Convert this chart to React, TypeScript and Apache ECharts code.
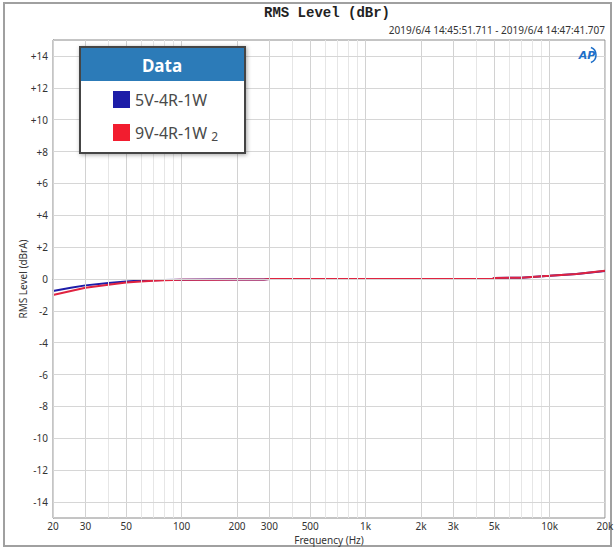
import React, { useEffect, useRef } from "react";
import * as echarts from "echarts";

const FREQ = [20, 25, 30, 40, 50, 60, 70, 80, 100, 150, 200, 280, 300, 500, 1000, 2000, 4900, 5000, 7000, 8000, 10000, 14000, 20000];
const BLUE = [-0.75, -0.55, -0.4, -0.25, -0.15, -0.1, -0.08, -0.06, -0.04, -0.03, -0.03, -0.03, 0.0, 0.0, 0.0, 0.0, 0.0, 0.07, 0.08, 0.13, 0.2, 0.32, 0.5];
const RED = [-1.0, -0.75, -0.55, -0.36, -0.22, -0.15, -0.11, -0.08, -0.05, -0.04, -0.03, -0.03, 0.0, 0.0, 0.0, 0.0, 0.0, 0.07, 0.08, 0.13, 0.2, 0.32, 0.52];
const SERIES_NAMES = ["5V-4R-1W", "9V-4R-1W 2"];
const X_LABELS = [20, 30, 50, 100, 200, 300, 500, 1000, 2000, 3000, 5000, 10000, 20000];
const X_GRID = [20, 30, 40, 50, 60, 70, 80, 90, 100, 200, 300, 400, 500, 600, 700, 800, 900, 1000, 2000, 3000, 4000, 5000, 6000, 7000, 8000, 9000, 10000, 20000];
const Y_TICKS = [-14, -12, -10, -8, -6, -4, -2, 0, 2, 4, 6, 8, 10, 12, 14];

const fmtFreq = (f: number) => (f >= 1000 ? f / 1000 + "k" : String(f));
const fmtY = (v: number) => (v > 0 ? "+" + v : String(v));

export default function App() {
  const ref = useRef<HTMLDivElement>(null);
  useEffect(() => {
    const chart = echarts.init(ref.current!, null, { renderer: "svg" });
    const font = "Noto Sans";
    const xLines = X_GRID.map((f) => {
      const labeled = X_LABELS.includes(f);
      return {
        xAxis: f,
        lineStyle: { color: labeled ? "#d2d2d2" : "#e6e6e6", width: 1, type: "solid" },
        label: labeled
          ? { show: true, position: "start", formatter: fmtFreq(f), color: "#333", fontSize: 10, fontFamily: font, distance: 3 }
          : { show: false },
      };
    });
    const yLines = Y_TICKS.map((v) => ({
      yAxis: v,
      lineStyle: { color: "#d6d6d6", width: 1, type: "solid" },
      label: { show: false },
    }));
    chart.setOption({
      animation: false,
      backgroundColor: "#fff",
      textStyle: { fontFamily: font },
      grid: {
        left: 53, right: 10, top: 40, bottom: 31,
        outerBoundsMode: "none", containLabel: false,
        show: true, borderColor: "#8a8a8a", borderWidth: 1, backgroundColor: "#fff",
      },
      xAxis: {
        type: "log",
        logBase: 10,
        min: 20,
        max: 20000,
        name: "Frequency (Hz)",
        nameLocation: "middle",
        nameGap: 17,
        nameTextStyle: { fontSize: 10, color: "#333", fontFamily: font },
        axisLine: { show: true, lineStyle: { color: "#8a8a8a" } },
        axisTick: { show: false },
        axisLabel: { show: false },
        splitLine: { show: false },
        minorSplitLine: { show: false },
      },
      yAxis: {
        type: "value",
        min: -15,
        max: 15,
        name: "RMS Level (dBrA)",
        nameLocation: "middle",
        nameGap: 25,
        nameMoveOverlap: false,
        nameTextStyle: { fontSize: 10, color: "#333", fontFamily: font },
        axisLine: { show: true, lineStyle: { color: "#8a8a8a" } },
        axisTick: { show: false },
        splitLine: { show: false },
        axisLabel: {
          customValues: Y_TICKS,
          formatter: (v: number) => fmtY(v),
          color: "#333",
          fontSize: 10,
          fontFamily: font,
          margin: 5,
        },
      },
      legend: {
        orient: "vertical",
        left: 113,
        top: 91,
        padding: 0,
        itemWidth: 17,
        itemHeight: 17,
        itemGap: 16,
        icon: "rect",
        data: SERIES_NAMES,
        formatter: (name: string) => (name === SERIES_NAMES[1] ? "9V-4R-1W {s|2}" : name),
        textStyle: {
          fontSize: 16,
          color: "#4a4a4a",
          fontFamily: font,
          rich: { s: { fontSize: 12, color: "#4a4a4a", padding: [8, 0, 0, 0], fontFamily: font } },
        },
        z: 20,
      },
      graphic: [
        { type: "rect", shape: { x: 4, y: 3, width: 607, height: 543 }, style: { fill: "none", stroke: "#a0a0a0", lineWidth: 2 }, silent: true },
        { type: "text", x: 327, y: 13, style: { text: "RMS Level (dBr)", fontFamily: "Liberation Mono", fontWeight: "bold", fontSize: 14, fill: "#222", textAlign: "center", textVerticalAlign: "middle" } },
        { type: "text", x: 605, y: 30, style: { text: "2019/6/4 14:45:51.711 - 2019/6/4 14:47:41.707", fontFamily: font, fontSize: 10, fill: "#333", textAlign: "right", textVerticalAlign: "middle" } },
        { type: "text", x: 587, y: 55, z: 10, style: { text: "AP", fontFamily: "DejaVu Sans", fontStyle: "italic", fontWeight: "bold", fontSize: 11, fill: "#1e6fc8", textAlign: "center", textVerticalAlign: "middle" } },
        { type: "arc", z: 10, shape: { cx: 588, cy: 55, r: 8, startAngle: -1.2, endAngle: 1.2 }, style: { stroke: "#1e6fc8", lineWidth: 1.5, fill: "none" } },
        {
          type: "rect",
          z: 10,
          shape: { x: 80, y: 47, width: 165, height: 106 },
          style: { fill: "#fff", stroke: "#444", lineWidth: 2, shadowBlur: 4, shadowColor: "rgba(0,0,0,0.35)", shadowOffsetX: 1, shadowOffsetY: 1 },
        },
        { type: "rect", z: 11, shape: { x: 81, y: 48, width: 163, height: 33 }, style: { fill: "#2c7bb8" } },
        { type: "text", z: 12, x: 162, y: 65, style: { text: "Data", fontFamily: font, fontWeight: "bold", fontSize: 17, fill: "#fff", textAlign: "center", textVerticalAlign: "middle" } },
      ],
      series: [
        {
          name: SERIES_NAMES[0],
          type: "line",
          data: FREQ.map((f, i) => [f, BLUE[i]]),
          showSymbol: false,
          smooth: false,
          color: "#1d1da8",
          lineStyle: { width: 2, color: "#1d1da8" },
          z: 3,
          markLine: {
            silent: true,
            symbol: ["none", "none"],
            animation: false,
            data: [...xLines, ...yLines],
          },
        },
        {
          name: SERIES_NAMES[1],
          type: "line",
          data: FREQ.map((f, i) => [f, RED[i]]),
          showSymbol: false,
          color: "#f21d2f",
          lineStyle: { width: 2, color: "#e02340" },
          z: 4,
        },
      ],
    });
    return () => chart.dispose();
  }, []);
  return <div ref={ref} style={{ position: "absolute", left: 0, top: 0, width: 615, height: 549, background: "#fff" }} />;
}
